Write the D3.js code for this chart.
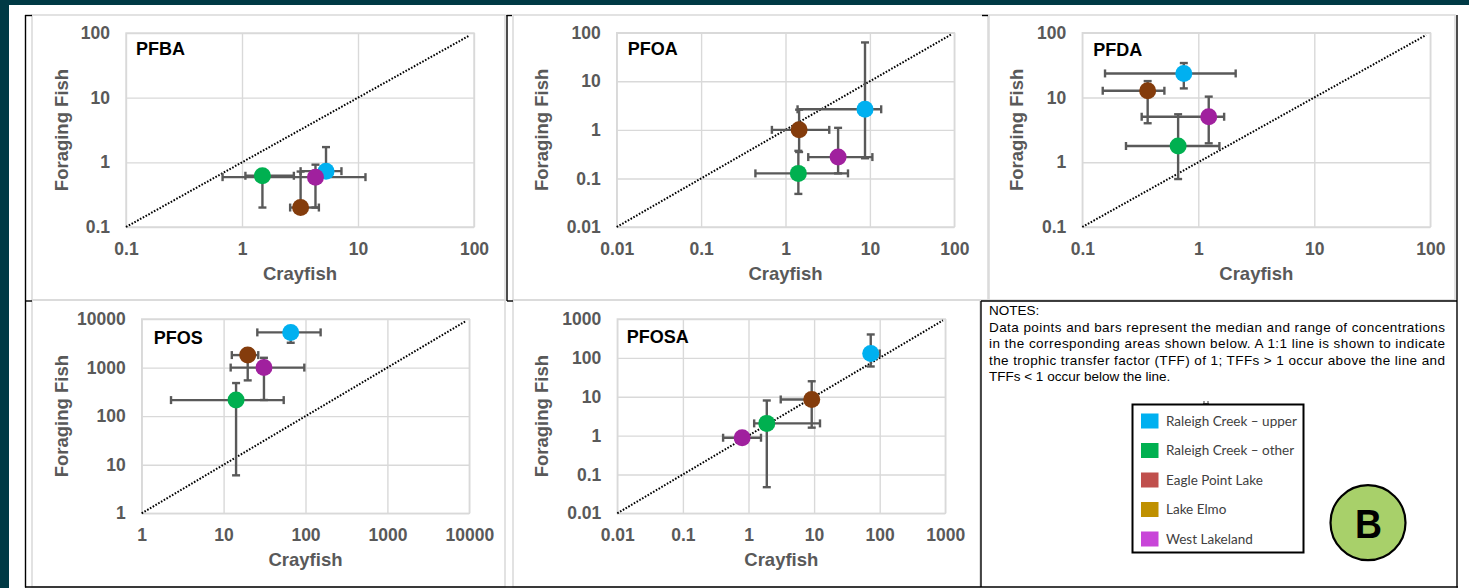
<!DOCTYPE html>
<html><head><meta charset="utf-8">
<script src="https://cdn.jsdelivr.net/npm/d3@7"></script>
<style>body{margin:0;background:#fff;} svg{display:block}</style>
</head><body>
<svg id="c" width="1469" height="588"></svg>
<script>
// ---------------- DATA ----------------
const sites = ["Raleigh Creek – upper", "Raleigh Creek – other", "Eagle Point Lake", "Lake Elmo", "West Lakeland"];
const markerColors = ["#00b0f0", "#00b050", "#843c0c", "#bf9000", "#a0209e"];
const legendColors = ["#00b0f0", "#00b050", "#c0504d", "#bf9000", "#c845d8"];

// each row: [site index, crayfish median, crayfish min, crayfish max, fish median, fish min, fish max]
const PFBA = [
  [0, 5.3, 3.2, 7.2, 0.73, 0.62, 1.72],
  [1, 1.5, 1.07, 2.8, 0.62, 0.2, 0.68],
  [2, 3.2, 2.6, 4.6, 0.2, 0.19, 0.72],
  [4, 4.3, 0.68, 11.6, 0.59, 0.2, 0.92]
];
const PFOA = [
  [0, 8.75, 1.39, 13.6, 2.65, 0.26, 63],
  [1, 1.42, 0.44, 5.5, 0.127, 0.048, 0.37],
  [2, 1.45, 0.69, 3.3, 1.0, 0.35, 2.6],
  [4, 4.2, 1.86, 10.7, 0.275, 0.127, 1.1]
];
const PFDA = [
  [0, 0.75, 0.157, 2.1, 23.5, 13.8, 34],
  [1, 0.67, 0.238, 1.52, 1.78, 0.55, 5.5],
  [2, 0.366, 0.15, 0.51, 12.7, 4.0, 17.9],
  [4, 1.23, 0.325, 1.67, 5.04, 1.96, 10.3]
];
const PFOS = [
  [0, 66, 25.8, 153, 5300, 3240, 5800],
  [1, 14.2, 2.28, 54.2, 214, 6.05, 480],
  [2, 19.7, 12.6, 26.5, 1807, 545, 2000],
  [4, 31.1, 12.2, 96.7, 1000, 215, 1590]
];
const PFOSA = [
  [0, 73, 60, 100, 130, 60, 400],
  [1, 1.9, 1.22, 12.3, 2.06, 0.047, 8],
  [2, 9.2, 3.1, 11, 8.5, 1.6, 25],
  [4, 0.8, 0.41, 1.55, 0.88, 0.8, 0.95]
];

const ticksPFBA = [0.1, 1, 10, 100];
const ticksPFOA = [0.01, 0.1, 1, 10, 100];
const ticksPFDA = [0.1, 1, 10, 100];
const ticksPFOSx = [1, 10, 100, 1000, 10000];
const ticksPFOSy = [1, 10, 100, 1000, 10000];
const ticksPFOSAx = [0.01, 0.1, 1, 10, 100, 1000];
const ticksPFOSAy = [0.01, 0.1, 1, 10, 100, 1000];

const notesLines = [
  "NOTES:",
  "Data points and bars represent the median and range of concentrations",
  "in the corresponding areas shown below. A 1:1 line is shown to indicate",
  "the trophic transfer factor (TFF) of 1; TFFs > 1 occur above the line and",
  "TFFs < 1 occur below the line."
];

// ---------------- LAYOUT ----------------
const panels = [
  {name: "PFBA", rows: PFBA, xt: ticksPFBA, yt: ticksPFBA, box: [126, 474, 33, 227], titleX: 61, lab: [10, 21.5]},
  {name: "PFOA", rows: PFOA, xt: ticksPFOA, yt: ticksPFOA, box: [616.7, 954.3, 32.7, 227], titleX: 541.7, lab: [11, 22]},
  {name: "PFDA", rows: PFDA, xt: ticksPFDA, yt: ticksPFDA, box: [1082.3, 1430.3, 32.7, 227], titleX: 1016.7, lab: [11, 23.5]},
  {name: "PFOS", rows: PFOS, xt: ticksPFOSx, yt: ticksPFOSy, box: [141.7, 469.3, 319, 513.3], titleX: 61, lab: [12, 25]},
  {name: "PFOSA", rows: PFOSA, xt: ticksPFOSAx, yt: ticksPFOSAy, box: [617.3, 945.3, 319, 513.3], titleX: 541.7, lab: [9.5, 23.5]}
];

const svg = d3.select("#c");
const FONT = "Arial, 'Liberation Sans', sans-serif";

// background frame
svg.append("rect").attr("x", 0).attr("y", 0).attr("width", 1469).attr("height", 5).attr("fill", "#003a45");
svg.append("rect").attr("x", 0).attr("y", 0).attr("width", 9).attr("height", 588).attr("fill", "#003a45");

// chart-area borders (light gray)
const areas = [[32, 15, 505, 300], [513, 15, 988, 300], [989, 15, 1455, 300], [32, 300, 505, 587], [513, 300, 980, 587]];
areas.forEach(a => {
  svg.append("rect").attr("x", a[0]).attr("y", a[1]).attr("width", a[2] - a[0]).attr("height", a[3] - a[1])
    .attr("fill", "none").attr("stroke", "#d9d9d9").attr("stroke-width", 1.5);
});

// black table lines
const blk = [
  [25.5, 15, 25.5, 587.5], [25, 587, 1458, 587], [25, 15.5, 32, 15.5],
  [507, 15, 507, 301], [506.5, 15.5, 512, 15.5], [507, 301, 513, 301],
  [982, 15.5, 988, 15.5], [1457, 15, 1457, 587.5],
  [981, 301, 1457, 301], [981, 301, 981, 587], [25, 301, 32, 301]
];
blk.forEach(l => svg.append("line").attr("x1", l[0]).attr("y1", l[1]).attr("x2", l[2]).attr("y2", l[3])
  .attr("stroke", "#000").attr("stroke-width", 1.4));

// ---------------- PANELS ----------------
panels.forEach(p => {
  const [x0, x1, y0, y1] = p.box;
  const xs = d3.scaleLog().domain([p.xt[0], p.xt[p.xt.length - 1]]).range([x0, x1]);
  const ys = d3.scaleLog().domain([p.yt[0], p.yt[p.yt.length - 1]]).range([y1, y0]);
  const g = svg.append("g");

  // grid
  const xAxis = d3.axisBottom(xs).tickValues(p.xt).tickFormat(d => String(d)).tickSize(-(y1 - y0)).tickPadding(11);
  const yAxis = d3.axisLeft(ys).tickValues(p.yt).tickFormat(d => String(d)).tickSize(-(x1 - x0)).tickPadding(16);
  const gx = g.append("g").attr("transform", `translate(0,${y1})`).call(xAxis);
  const gy = g.append("g").attr("transform", `translate(${x0},0)`).call(yAxis);
  [gx, gy].forEach(ax => {
    ax.select(".domain").remove();
    ax.selectAll(".tick line").attr("stroke", "#d9d9d9").attr("stroke-width", 1.4);
    ax.selectAll(".tick text").attr("fill", "#595959").attr("font-family", FONT)
      .attr("font-weight", "bold").attr("font-size", 17.5);
  });
  gx.selectAll(".tick text").attr("dy", "0.95em");
  g.append("rect").attr("x", x0).attr("y", y0).attr("width", x1 - x0).attr("height", y1 - y0)
    .attr("fill", "none").attr("stroke", "#d9d9d9").attr("stroke-width", 1.4);

  // 1:1 line
  const lo = Math.max(xs.domain()[0], ys.domain()[0]);
  const hi = Math.min(xs.domain()[1], ys.domain()[1]);
  g.append("line").attr("x1", xs(lo)).attr("y1", ys(lo)).attr("x2", xs(hi * 0.92)).attr("y2", ys(hi * 0.92))
    .attr("stroke", "#000").attr("stroke-width", 2).attr("stroke-dasharray", "1.6,1.6");

  // error bars
  const cap = 4;
  const eb = g.append("g").attr("stroke", "#595959").attr("stroke-width", 2.4).attr("fill", "none");
  p.rows.forEach(r => {
    const [si, xm, xl, xh, ym, yl, yh] = r;
    const cx = xs(xm), cy = ys(ym);
    eb.append("line").attr("x1", xs(xl)).attr("x2", xs(xh)).attr("y1", cy).attr("y2", cy);
    eb.append("line").attr("x1", xs(xl)).attr("x2", xs(xl)).attr("y1", cy - cap).attr("y2", cy + cap);
    eb.append("line").attr("x1", xs(xh)).attr("x2", xs(xh)).attr("y1", cy - cap).attr("y2", cy + cap);
    eb.append("line").attr("x1", cx).attr("x2", cx).attr("y1", ys(yl)).attr("y2", ys(yh));
    eb.append("line").attr("x1", cx - cap).attr("x2", cx + cap).attr("y1", ys(yl)).attr("y2", ys(yl));
    eb.append("line").attr("x1", cx - cap).attr("x2", cx + cap).attr("y1", ys(yh)).attr("y2", ys(yh));
  });
  // markers
  g.selectAll("circle.pt").data(p.rows).enter().append("circle").attr("class", "pt")
    .attr("cx", r => xs(r[1])).attr("cy", r => ys(r[4])).attr("r", 8.5)
    .attr("fill", r => markerColors[r[0]]);

  // panel label
  g.append("text").attr("x", x0 + p.lab[0]).attr("y", y0 + p.lab[1]).text(p.name)
    .attr("font-family", FONT).attr("font-weight", "bold").attr("font-size", 18).attr("fill", "#000");

  // axis titles
  g.append("text").attr("x", (x0 + x1) / 2).attr("y", y1 + 53).attr("text-anchor", "middle").text("Crayfish")
    .attr("font-family", FONT).attr("font-weight", "bold").attr("font-size", 18.5).attr("fill", "#595959");
  g.append("text").attr("transform", `translate(${p.titleX + 6.5},${(y0 + y1) / 2}) rotate(-90)`)
    .attr("text-anchor", "middle").text("Foraging Fish")
    .attr("font-family", FONT).attr("font-weight", "bold").attr("font-size", 18.5).attr("fill", "#595959");
});

// ---------------- NOTES ----------------
const notes = svg.append("g").attr("font-family", FONT).attr("font-size", 13.5).attr("fill", "#000");
notesLines.forEach((t, i) => {
  const tx = notes.append("text").attr("x", 989).attr("y", 315 + i * 16.6).text(t);
  if (i >= 1 && i <= 3) tx.attr("textLength", 456).attr("lengthAdjust", "spacing");
});

// small artifact above legend
svg.append("path").attr("d", "M1204,401V406M1208,401V406M1203,403.5H1209").attr("stroke", "#595959").attr("stroke-width", 1.2);

// ---------------- LEGEND ----------------
const leg = svg.append("g");
leg.append("rect").attr("x", 1132.5).attr("y", 404.5).attr("width", 171).attr("height", 148)
  .attr("fill", "#fff").attr("stroke", "#000").attr("stroke-width", 2);
sites.forEach((s, i) => {
  const cy = 421 + i * 29.5;
  leg.append("rect").attr("x", 1141).attr("y", cy - 7.5).attr("width", 17.5).attr("height", 15).attr("fill", legendColors[i]);
  leg.append("text").attr("x", 1166).attr("y", cy + 4.8).text(s)
    .attr("font-family", "Lato, 'Open Sans', sans-serif").attr("font-size", 13.5).attr("fill", "#404040");
});

// ---------------- B BADGE ----------------
svg.append("circle").attr("cx", 1368).attr("cy", 522.7).attr("r", 37.5)
  .attr("fill", "#a8d06a").attr("stroke", "#000").attr("stroke-width", 2.2);
svg.append("text").attr("x", 1368.5).attr("y", 537.7).attr("text-anchor", "middle").text("B")
  .attr("font-family", FONT).attr("font-weight", "bold").attr("font-size", 41).attr("fill", "#000")
  .attr("textLength", 27).attr("lengthAdjust", "spacingAndGlyphs");
</script>
</body></html>
